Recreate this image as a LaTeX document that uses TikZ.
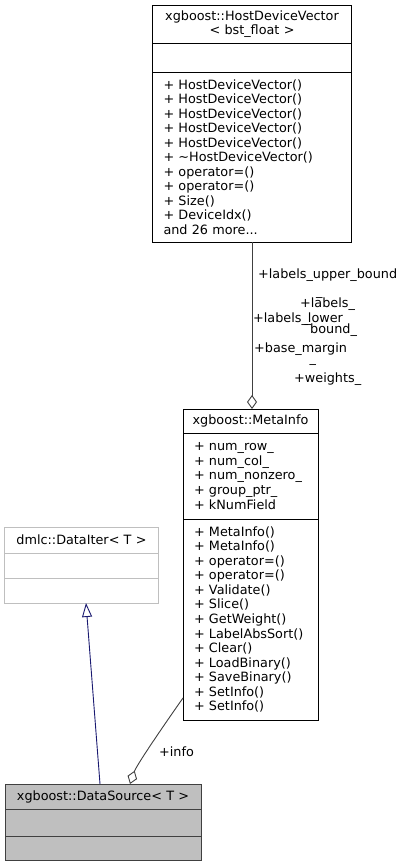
\documentclass[tikz,border=0pt]{standalone}
\usepackage{fontspec}
\setmainfont{DejaVu Sans}
\usetikzlibrary{positioning,arrows.meta,calc}
\definecolor{edgegrey}{HTML}{404040}
\definecolor{inhblue}{HTML}{191970}
\definecolor{undocgrey}{HTML}{BFBFBF}
\newcommand\dgfont{\fontsize{12.8}{14.55}\selectfont}
\tikzset{
  cls/.style={draw=black, fill=white, line width=0.9pt, outer sep=0pt, inner ysep=0pt, font=\dgfont},
  clshead/.style={cls, inner xsep=4pt, align=center},
  clsbody/.style={cls, inner xsep=11pt, align=left},
  undoc/.style={draw=undocgrey},
  current/.style={draw=edgegrey, fill=undocgrey},
  aggr/.style={draw=edgegrey, line width=0.9pt, -{Diamond[fill=white, length=14pt, width=10pt]}},
  inh/.style={draw=inhblue, line width=0.9pt, -{Triangle[fill=white, length=14pt, width=10pt]}},
  lbl/.style={font=\dgfont, inner sep=0pt, anchor=base west},
}
\begin{document}
\begin{tikzpicture}[x=1pt, y=-1pt]
  \useasboundingbox (0,0) rectangle (403,867);

  % HostDeviceVector
  \node[clshead, anchor=north, text width=191pt, minimum height=38pt] (hdvhead) at (252,5) {xgboost::HostDeviceVector\\< bst\_float >};
  \node[clsbody, below=0pt of hdvhead, text width=177pt, minimum height=29pt] (hdvattr) {};
  \node[clsbody, below=0pt of hdvattr, text width=177pt, minimum height=170pt] (hdvmeth) {+ HostDeviceVector()\\+ HostDeviceVector()\\+ HostDeviceVector()\\+ HostDeviceVector()\\+ HostDeviceVector()\\+ \textasciitilde HostDeviceVector()\\+ operator=()\\+ operator=()\\+ Size()\\+ DeviceIdx()\\and 26 more...};

  % MetaInfo
  \node[clshead, anchor=north, text width=127pt, minimum height=24pt] (metahead) at (250.5,409) {xgboost::MetaInfo};
  \node[clsbody, below=0pt of metahead, text width=113pt, minimum height=86pt] (metaattr) {+ num\_row\_\\+ num\_col\_\\+ num\_nonzero\_\\+ group\_ptr\_\\+ kNumField};
  \node[clsbody, below=0pt of metaattr, text width=113pt, minimum height=201pt] (metameth) {+ MetaInfo()\\+ MetaInfo()\\+ operator=()\\+ operator=()\\+ Validate()\\+ Slice()\\+ GetWeight()\\+ LabelAbsSort()\\+ Clear()\\+ LoadBinary()\\+ SaveBinary()\\+ SetInfo()\\+ SetInfo()};

  % DataIter
  \node[clshead, undoc, anchor=north, text width=146pt, minimum height=26pt] (iterhead) at (81.5,527) {dmlc::DataIter< T >};
  \node[clsbody, undoc, below=0pt of iterhead, text width=132pt, minimum height=25pt] (iterattr) {};
  \node[clsbody, undoc, below=0pt of iterattr, text width=132pt, minimum height=25pt] (itermeth) {};

  % DataSource
  \node[clshead, current, anchor=north, text width=188pt, minimum height=25pt] (srchead) at (103,784) {xgboost::DataSource< T >};
  \node[clsbody, current, below=0pt of srchead, text width=174pt, minimum height=27pt] (srcattr) {};
  \node[clsbody, current, below=0pt of srcattr, text width=174pt, minimum height=24pt] (srcmeth) {};

  \draw[aggr] (hdvmeth.south) -- (hdvmeth.south |- metahead.north);
  \draw[aggr] ($(metameth.south west)+(0,-22)$) .. controls +(-12,17) and +(7,-20) .. ($(srchead.north west)+(125,0)$);
  \draw[inh] ($(srchead.north west)+(95,0)$) -- ($(itermeth.south west)+(81.5,0)$);

  \node[lbl] (lblupper) at (258,278.5) {+labels\_upper\_bound};
  \node[lbl] (lblgapa) at (316,295.3) {\_};
  \node[lbl] (lbllabels) at (300,307.5) {+labels\_};
  \node[lbl] (lbllower) at (253,322) {+labels\_lower};
  \node[lbl] (lblgapb) at (304.5,322.3) {\_};
  \node[lbl] (lblbound) at (310,333) {bound\_};
  \node[lbl] (lblmargin) at (254,352.5) {+base\_margin};
  \node[lbl] (lblgapc) at (309.5,362) {\_};
  \node[lbl] (lblweights) at (294,382) {+weights\_};
  \node[lbl] (lblinfo) at (159,756.5) {+info};
\end{tikzpicture}
\end{document}
